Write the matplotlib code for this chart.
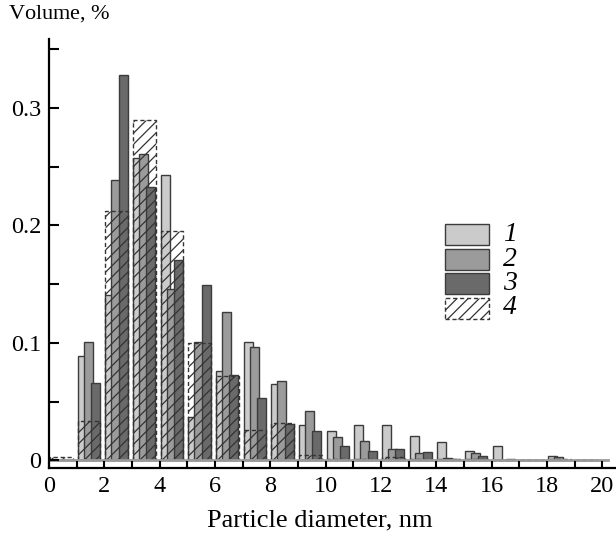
import matplotlib
matplotlib.use('Agg')
import matplotlib.pyplot as plt
from matplotlib.patches import Rectangle
import numpy as np

plt.rcParams['font.family'] = ['Liberation Serif', 'DejaVu Serif']
plt.rcParams['mathtext.fontset'] = 'custom'
plt.rcParams['mathtext.rm'] = 'Liberation Serif'
plt.rcParams['mathtext.it'] = 'Liberation Serif:italic'
plt.rcParams['hatch.linewidth'] = 0.9

# bin left edges, nm
bins = np.arange(20)
# volume fractions per bin for samples 1-4
s1 = [0, 0.089, 0.141, 0.257, 0.243, 0.037, 0.076, 0.101, 0.065, 0.030,
      0.025, 0.030, 0.030, 0.021, 0.016, 0.008, 0.012, 0, 0.004, 0]
s2 = [0, 0.101, 0.239, 0.261, 0.146, 0.101, 0.126, 0.097, 0.068, 0.042,
      0.020, 0.017, 0.010, 0.006, 0.0025, 0.006, 0.0005, 0, 0.0027, 0]
s3 = [0, 0.066, 0.328, 0.233, 0.171, 0.149, 0.073, 0.053, 0.031, 0.025,
      0.012, 0.008, 0.010, 0.0075, 0.001, 0.004, 0.001, 0, 0, 0]
s4 = [0.003, 0.034, 0.212, 0.290, 0.195, 0.100, 0.072, 0.026, 0.032, 0.005,
      0.001, 0.001, 0.003, 0.001, 0.001, 0.001, 0, 0, 0.001, 0]
labels = ['1', '2', '3', '4']

edge = '#3c3c3c'
fills = ['#cbcbcb', '#9b9b9b', '#6a6a6a']

fig = plt.figure(figsize=(6.16, 5.37), dpi=100)
ax = fig.add_axes([49 / 616, 69 / 537, 567 / 616, 429 / 537])

offsets = [0.205, 0.415, 0.685]
for vals, off, fc in zip([s1, s2, s3], offsets, fills):
    ax.bar(bins + off, vals, width=0.33, color=fc, edgecolor=edge, linewidth=1.0)
ax.bar(bins + 0.445, s4, width=0.82, facecolor='none', edgecolor='#333333',
       hatch='///', linewidth=1.0, linestyle=(0, (3, 2)))

ax.axhline(0, xmin=0, xmax=20.2 / 20.5, color='#9a9a9a', linewidth=2, zorder=1)

ax.set_xlim(0, 20.5)
ax.set_ylim(-0.0064, 0.3587)
ax.spines['top'].set_visible(False)
ax.spines['right'].set_visible(False)
for s in ['left', 'bottom']:
    ax.spines[s].set_linewidth(1.6)

ax.set_xticks(np.arange(0, 21, 2))
ax.set_xticks(np.arange(1, 21, 2), minor=True)
ax.set_yticks([0, 0.1, 0.2, 0.3])
ax.set_yticklabels(['0', '0.1', '0.2', '0.3'])
ax.set_yticks([0.05, 0.15, 0.25, 0.35], minor=True)
ax.tick_params(axis='x', which='both', direction='in', length=5, width=1.5,
               labelsize=17.5, pad=6)
ax.tick_params(axis='y', which='both', direction='in', length=7.2, width=1.5,
               labelsize=17.5, pad=5.5)

fig.text(320 / 616, 1 - 520 / 537, 'Particle diameter, nm', ha='center',
         va='center', fontsize=19)
fig.text(8 / 616, 1 - 14 / 537, r'Volume, $\mathit{\%}$', ha='left',
         va='center', fontsize=16)

# legend
x0 = (445 - 49) / 567
w = 44 / 567
h = 21 / 429
step = 24.5 / 429
top = (468 - 224) / 429
for i, lab in enumerate(labels):
    y = top - h - i * step
    if i < 3:
        p = Rectangle((x0, y), w, h, transform=ax.transAxes, facecolor=fills[i],
                      edgecolor=edge, linewidth=1.0)
    else:
        p = Rectangle((x0, y), w, h, transform=ax.transAxes, facecolor='none',
                      edgecolor='#333333', hatch='///', linewidth=1.0,
                      linestyle=(0, (3, 2)))
    ax.add_patch(p)
    ax.text((503 - 49) / 567, y + h / 2, lab, transform=ax.transAxes,
            fontsize=20, style='italic', ha='left', va='center')

fig.savefig('out.png', dpi=100)
